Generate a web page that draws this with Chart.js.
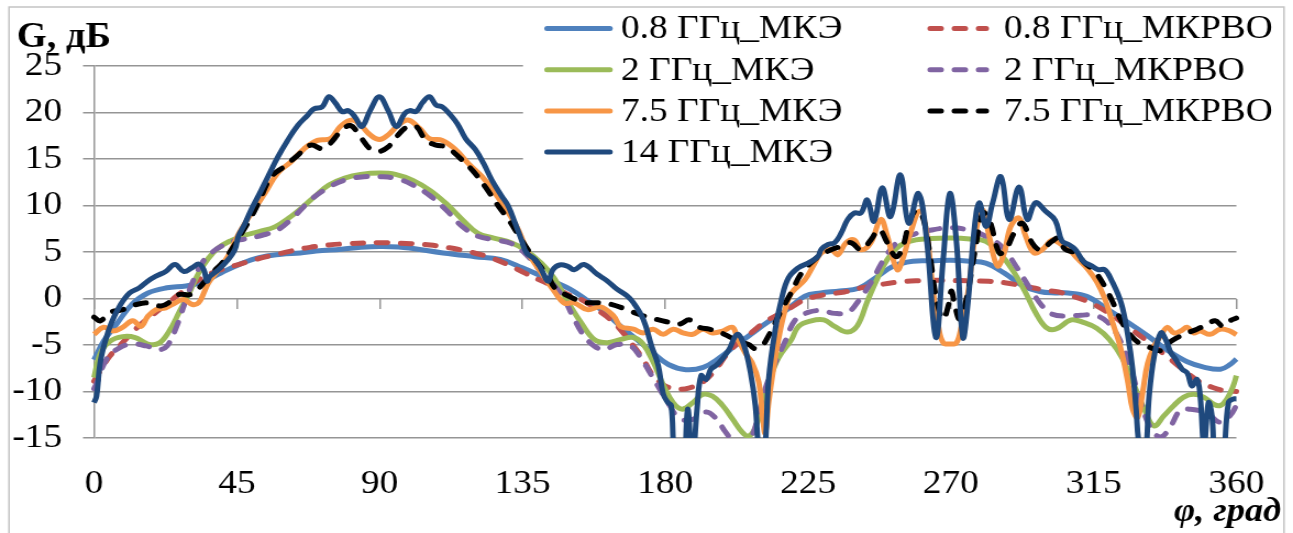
<!DOCTYPE html>
<html>
<head>
<meta charset="utf-8">
<script src="https://cdn.jsdelivr.net/npm/chart.js@4.4.1/dist/chart.umd.min.js"></script>
<style>
  html, body { margin: 0; padding: 0; background: #ffffff; }
</style>
</head>
<body>
<canvas id="chart" width="1176" height="533" style="display:block;width:1293px;height:533px"></canvas>
<script>
// Azimuth angles (deg) and gains (dB) of each pattern
const ang08MKE = [0,3,7,12,17,23,29,34,40,46,52,59,65,70,78,84,90,96,100,110,120,128,135,141,145,150,155,161,166,171,176,181,186.5,192,197,202,207,212,218,224,229,235,241,247,252,258,264,270,276,281,287,292.5,298,303,307,313,319.5,326,332,338,344.5,350,355,358,360];
const gain08MKE = [-6.6,-4.6,-2.8,-0.6,0.6,1.15,1.35,1.75,2.75,3.7,4.4,4.75,4.9,5.1,5.3,5.5,5.6,5.55,5.4,4.9,4.5,4.2,3.3,2.4,1.8,1.0,-0.1,-1.5,-3.0,-4.4,-5.8,-7.1,-7.65,-7.4,-6.4,-5.1,-3.85,-2.6,-1.3,0.25,0.6,0.8,1.1,2.4,3.5,4.0,4.05,4.1,4.0,3.8,2.7,1.4,0.75,0.6,0.6,0.2,-1.2,-2.6,-4.0,-5.5,-6.8,-7.4,-7.6,-7.1,-6.5];

const ang08MKRVO = [0,1,5,9,14,19.5,24.7,30,35,40,45.5,51,57,62,68,74,80,90,100,106,112,118,124,130,136,141,145,149,153.5,158.5,162.7,166,170,173,176,179.5,183.5,187.7,191.8,196,199,203,207.4,211.5,215.7,220,224,228,232,236.5,241,247,253,259,265,270,276,282,287,293.5,299.8,304,307,313,319.5,326,332,338,344.5,348.6,352.8,356,360];
const gain08MKRVO = [-8.9,-8.3,-6.2,-4.75,-3.0,-1.5,-0.1,1.3,2.4,3.1,3.65,4.2,4.7,5.1,5.5,5.75,5.9,6.0,5.9,5.75,5.45,5.05,4.5,3.7,2.7,1.9,1.3,0.5,-0.1,-1.2,-2.25,-3.4,-5.1,-6.5,-8.2,-9.3,-9.75,-9.6,-9.0,-7.6,-6.2,-4.75,-3.6,-2.5,-1.7,-0.9,-0.1,0.25,0.5,0.7,1.1,1.45,1.75,1.9,1.95,1.95,1.9,1.85,1.7,1.3,0.9,0.7,0.4,-0.3,-1.5,-3.1,-4.6,-6.2,-8.0,-9.0,-9.6,-9.9,-10.0];

const ang2MKE = [0,2,5,9,13,17,20.5,23.7,26.8,30,33,36,39,43,47.5,52,57,62,66,70,74,79,84,90,95,100.5,106,111,116,121,126,131.5,136,141,145,149,153.5,157.6,161.7,166,170,173,176.2,179.4,182.5,185.3,188.7,191.8,194.9,198.1,201.2,204.3,206.3,208.4,210.5,213,215.7,219.8,222,226,230,233.4,237.5,240.6,243.7,246.8,250,254,259,264,270,276,281,285.3,289.4,293.6,296.7,300,303,308,312,316,320,324,328,331,334,337.2,340.3,343.4,346.5,349.7,353,355,357,359,360];
const gain2MKE = [-8.5,-5.9,-4.6,-4.1,-4.2,-4.9,-4.8,-3.5,-1.5,0.6,2.75,4.3,5.4,6.2,6.8,7.2,7.7,8.8,9.9,11.1,12.2,12.95,13.35,13.5,13.35,12.7,11.6,10.2,8.5,7.0,6.5,6.0,5.2,3.8,2.2,-0.2,-2.6,-4.4,-4.75,-4.4,-4.2,-4.9,-6.8,-9.3,-11.2,-11.9,-11.2,-10.3,-10.5,-11.5,-12.95,-14.4,-14.8,-13.9,-11.7,-8.7,-6.4,-4.4,-3.0,-2.4,-2.3,-3.0,-3.6,-2.9,-0.3,2.1,4.2,5.7,6.3,6.45,6.5,6.4,6.15,4.9,3.1,0.6,-1.5,-3.1,-3.3,-2.3,-2.6,-3.2,-4.4,-6.4,-9.5,-11.9,-13.7,-12.6,-11.5,-10.6,-10.3,-10.6,-11.4,-11.5,-10.8,-9.4,-8.3];

const ang2MKRVO = [0,1,4,8,12,16.4,20.5,23,25.7,28.3,31,34,37,40,43.4,47.5,53,58,63,68.3,73.5,78.7,85,90,95.3,100.5,105.7,111,116,121,126.4,131.6,136.8,142,145,148.2,151.3,154.4,157.6,160.7,164.8,169,172,175.2,178.3,181.4,184.5,188.7,192.9,196,199.1,201.7,205.3,207.4,209.5,211.5,214.7,217.8,221,225,229.2,233.4,237.5,240.6,244.8,248.9,253,258.3,264.5,270,275,281,286.3,290.5,294.6,298.8,302,306,311,315.4,319.6,323.7,326.8,329.9,333.1,336.2,339.3,342.4,345.5,348.6,351.7,354.9,358,360];
const gain2MKRVO = [-9.7,-9.0,-6.5,-5.3,-4.9,-5.1,-5.5,-5.1,-3.3,-0.8,1.7,3.8,4.9,5.6,6.1,6.4,6.8,7.4,8.8,10.6,11.85,12.7,13.1,13.1,12.9,12.2,11.1,9.5,7.75,6.7,6.3,5.9,4.5,2.4,1.4,-0.1,-2.2,-4.0,-5.1,-5.5,-4.95,-5.1,-6.2,-8.0,-9.75,-11.5,-12.9,-13.0,-12.2,-12.9,-14.4,-15.4,-15.8,-14.75,-12.4,-9.75,-6.9,-4.6,-2.3,-1.5,-1.3,-1.6,-1.5,-0.4,1.7,4.2,6.0,6.9,7.4,7.6,7.4,6.7,5.5,3.5,1.3,-0.8,-1.7,-1.9,-1.8,-1.8,-2.6,-4.75,-7.6,-11.2,-14.0,-14.9,-13.7,-12.0,-11.9,-12.1,-12.6,-13.3,-12.6,-11.5];

const ang75MKE = [0,3,6,9,12.2,14.8,17,19.5,22.6,25.7,28.3,31,33,34.6,36.1,39.2,42.3,45.5,48.6,51.7,54,57.9,62.1,66.2,70.4,74.5,77.6,81.3,84.4,87,90,92.7,95.8,98.9,102.6,105.7,109.8,114,118,122.3,126.4,130.6,133.7,136.8,141,145,148.2,151.3,155.5,159.6,163.8,165.9,170,173.1,176.2,179.4,182.5,185.6,188.7,191.8,194.9,198.1,201.2,202.7,205.3,207.4,209.5,210.5,211.5,212.6,214.1,215.7,217.8,219.8,224,227.1,229.2,232.3,234.4,237,239.6,241.7,244.8,247.9,250,253.1,255.1,257.2,260.3,262.4,264.5,266.1,267.6,269.7,271.8,273.3,275.4,278,280.1,282.1,284.7,286.8,288.9,291.5,293.6,296.2,298.8,301.9,304,307.1,310.2,313.3,316,318.5,321,323.5,325.8,327.3,328.9,330.5,332,334.1,336.2,338.2,340.3,342.4,344.5,346.5,348.6,351.7,354.9,358,360];
const gain75MKE = [-3.85,-3.1,-3.5,-3.1,-2.4,-3.0,-1.9,-1.2,-1.0,-0.45,-0.1,-0.65,-0.45,0.6,1.7,3.1,4.6,6.9,8.65,10.2,11.4,13.5,14.7,16.1,17.0,17.2,18.5,19.2,18.5,17.6,17.1,17.6,18.6,19.2,18.3,17.2,17.0,16.0,14.5,13.1,11.3,9.2,7.4,4.9,2.75,0.8,-0.5,-0.46,-1.2,-0.9,-1.9,-3.0,-3.3,-3.7,-3.3,-3.85,-3.3,-3.7,-3.85,-3.3,-3.7,-3.5,-3.1,-4.2,-5.9,-6.9,-9.0,-12.0,-14.5,-11.2,-7.6,-4.4,-1.2,0.6,2.0,3.8,4.9,5.25,4.7,6.0,6.3,5.25,6.0,8.5,6.7,3.1,4.5,7.0,9.4,7.0,0.6,-3.0,-4.75,-4.9,-4.75,-3.0,0.6,7.4,9.5,6.7,3.5,4.9,7.75,8.65,6.7,4.9,5.25,6.3,6.0,5.3,4.2,3.1,1.8,0.0,-2.6,-5.3,-9.0,-11.9,-12.8,-10.0,-7.0,-5.1,-4.0,-3.1,-3.7,-3.5,-3.1,-3.7,-3.5,-3.85,-3.3,-3.5,-3.9];

const ang75MKRVO = [0,2,5,9,13.3,17.4,21.1,24.2,26.8,30,32,34.6,37.2,40.3,43.4,46.5,49.6,51.7,55.9,60,64.2,68.3,72,74.5,77.6,80.8,83.9,87,89.6,92.7,95.3,98.9,101.5,104.6,107.8,110.9,115,119.2,123.3,127.5,130.6,134.7,138.9,143.1,145.1,149.3,154.4,158.6,162.7,167.9,172.1,176.2,180.4,184.5,187.7,190.8,193.9,197,200.1,203.2,206.3,208.4,210.5,212.6,214.7,216.7,219.5,223,227.1,229.2,232.3,235.4,238.5,241.7,244.8,247.4,250,252.6,254.6,257.2,259.3,261.4,263.5,265.5,267.6,269.2,270.2,271.3,272.8,274.9,277.5,280.1,282.1,285.3,287.3,289.9,292.5,295.6,298.2,301.9,303.9,306,309.2,312.3,315.4,318.5,321.6,323.7,326.8,329.9,333.1,336.2,338.2,341.4,344.5,347.6,350.7,353.3,355.9,358,360];
const gain75MKRVO = [-2.0,-2.4,-1.5,-1.2,-0.65,-0.46,-0.8,-0.3,0.43,0.4,0.8,1.7,2.75,3.8,5.3,7.0,8.8,10.2,13.1,14.2,15.4,16.5,16.1,16.7,17.9,18.6,17.4,16.1,15.8,16.3,17.4,18.5,18.5,17.0,16.5,16.3,15.2,13.8,12.0,9.9,8.5,6.3,4.2,2.4,1.2,0.3,-0.4,-0.46,-0.6,-1.2,-1.75,-2.15,-2.5,-2.75,-2.3,-3.1,-3.3,-3.6,-4.1,-4.65,-4.95,-5.4,-5.1,-4.0,-2.6,-1.2,0.5,2.75,4.2,4.7,5.25,5.6,6.0,5.25,6.3,7.4,6.0,4.5,5.25,8.5,9.5,8.5,4.5,-0.1,-2.2,-0.8,0.8,-0.8,-2.2,-0.1,4.9,9.2,8.5,4.9,5.25,7.0,8.1,6.0,5.25,6.15,6.5,5.3,4.9,3.8,2.9,1.3,-0.8,-2.4,-4.0,-4.9,-5.3,-5.6,-4.9,-4.2,-3.7,-3.3,-2.8,-2.4,-3.0,-2.4,-2.1];

const ang14MKE = [0,0.8,1.9,3.4,5.5,8.1,11.2,14.3,16.9,19.5,22.6,25.5,28.3,30.9,33,34.6,35.6,36.6,39.2,42.3,44.4,45.5,47.5,49.6,52.2,54.8,57.9,61,64.2,67.3,69.3,71.9,74,76.1,78.2,80.2,82.3,84.4,87,89.9,92.7,95.3,97.9,99.5,101.5,103.6,105.7,107.8,109.8,111.9,114.5,117.1,120.2,122.8,125.4,128.5,130.6,132.7,134.7,136.3,138.9,141,143.1,144.6,146.7,149.3,151.3,154.4,158.6,161.7,164.8,167.9,170,173.1,175.7,177.8,179.4,180.9,181.9,183,185.5,187.1,188.5,190,191.3,192.9,194.4,196,198,200.1,202.7,204.8,206.9,208.4,209.8,211.2,212.6,214.7,216.7,218.8,221.9,225,228.1,229.2,231.3,233.4,235.4,237.5,239.6,241.7,243.7,245.8,248.4,251,254.1,256.7,259.8,262.4,265.3,267.6,269.7,271.8,273.8,275.4,277.5,279,281.1,283.2,285.8,288.4,291.5,294.1,296.7,299.8,302.9,305,307.1,309.2,311.8,314.4,316.4,318.5,320.6,323.7,325.8,327.3,328.4,329.5,331.2,332.5,334.1,336.2,337.7,339.3,340.8,342.9,344.5,346,347.6,348.6,349.8,351.2,352.3,353.5,355.5,357.5,359,360];
const gain14MKE = [-11.2,-10.5,-7.0,-4.75,-2.6,-0.8,0.6,1.15,1.86,2.4,2.9,3.65,2.9,3.3,3.7,3.1,1.86,2.4,3.1,4.2,5.25,6.7,8.0,9.6,11.3,13.1,15.2,17.0,18.6,19.7,20.4,20.6,21.7,21.0,20.1,20.2,19.5,18.5,20.2,21.7,20.2,18.5,19.9,20.2,20.1,21.1,21.7,20.8,20.6,19.9,18.8,17.2,16.0,14.5,12.7,11.0,9.9,8.1,6.3,4.9,4.2,3.1,1.85,3.1,3.6,3.46,3.1,3.65,2.6,1.9,1.0,0.3,-0.46,-2.25,-5.1,-7.2,-10.3,-11.2,-11.5,-17,-20,-11.9,-18,-12,-8.3,-8.7,-7.6,-7.2,-6.5,-5.5,-3.85,-5.0,-8.0,-11.5,-17,-17,-8.7,-3.3,0.0,2.2,3.3,3.8,4.5,5.3,5.8,6.0,7.0,8.5,9.2,9.2,10.6,8.3,11.9,8.8,13.3,8.1,11.3,6.3,-4.2,4.2,11.3,6.0,-4.2,-0.46,7.75,10.3,7.75,10.3,13.1,8.5,12.0,8.5,10.3,9.4,8.4,6.2,5.8,5.3,4.0,3.5,3.1,3.1,2.0,-0.5,-4.0,-7.6,-11.9,-16,-17,-10.5,-6.2,-3.7,-4.4,-5.8,-6.5,-7.6,-8.0,-9.4,-8.7,-10.5,-16,-11.2,-12.6,-18,-18,-11.2,-10.8,-10.8];

// Axis ticks
const angleTicks = [0, 45, 90, 135, 180, 225, 270, 315, 360];
const gainMin = -15, gainMax = 25, gainStep = 5;

const SERIF = '"Liberation Serif", "Times New Roman", serif';
const GRID = '#959595';
const LINE_W = 5;
const DASH = [10, 12];

function points(angles, gains) {
  return angles.map((a, i) => ({ x: a, y: gains[i] }));
}

const series = [
  { label: '0.8 ГГц_МКЭ',   data: points(ang08MKE, gain08MKE),     color: '#4F81BD', dashed: false },
  { label: '0.8 ГГц_МКРВО', data: points(ang08MKRVO, gain08MKRVO), color: '#C0504D', dashed: true },
  { label: '2 ГГц_МКЭ',     data: points(ang2MKE, gain2MKE),       color: '#9BBB59', dashed: false },
  { label: '2 ГГц_МКРВО',   data: points(ang2MKRVO, gain2MKRVO),   color: '#8064A2', dashed: true },
  { label: '7.5 ГГц_МКЭ',   data: points(ang75MKE, gain75MKE),     color: '#F79646', dashed: false },
  { label: '7.5 ГГц_МКРВО', data: points(ang75MKRVO, gain75MKRVO), color: '#000000', dashed: true },
  { label: '14 ГГц_МКЭ',    data: points(ang14MKE, gain14MKE),     color: '#1F497D', dashed: false }
];

// Chart frame, legend block and the two axis captions
const decorations = {
  id: 'decorations',
  beforeDraw(chart) {
    const ctx = chart.ctx;
    ctx.save();
    ctx.fillStyle = '#ffffff';
    ctx.fillRect(0, 0, chart.width, chart.height);
    ctx.strokeStyle = '#c4c4c4';
    ctx.lineWidth = 1.5;
    ctx.strokeRect(8.2, 7, 1159.6, 600);
    ctx.restore();
  },
  afterDraw(chart) {
    const ctx = chart.ctx;
    ctx.save();
    // legend area
    ctx.fillStyle = '#ffffff';
    ctx.fillRect(475.7, 9, 1166.5 - 475.7, 172 - 9);
    const cols = [
      { x0: 497.5, x1: 554.8, tx: 564.8 },
      { x0: 846, x1: 897, tx: 913 }
    ];
    ctx.font = '34px ' + SERIF;
    ctx.textBaseline = 'middle';
    ctx.textAlign = 'left';
    chart.data.datasets.forEach((ds, i) => {
      const c = cols[i % 2];
      const y = 28.5 + 41.2 * Math.floor(i / 2);
      ctx.beginPath();
      ctx.strokeStyle = ds.borderColor;
      ctx.lineWidth = LINE_W;
      ctx.lineCap = 'round';
      ctx.setLineDash(ds.borderDash || []);
      ctx.moveTo(c.x0, y);
      ctx.lineTo(c.x1, y);
      ctx.stroke();
      ctx.setLineDash([]);
      ctx.fillStyle = '#000000';
      ctx.fillText(ds.label, c.tx, y + 1);
    });
    // axis captions
    ctx.fillStyle = '#000000';
    ctx.textBaseline = 'alphabetic';
    ctx.font = 'bold 35px ' + SERIF;
    ctx.textAlign = 'left';
    ctx.fillText('G, дБ', 15.3, 47);
    ctx.font = 'italic bold 33px ' + SERIF;
    ctx.textAlign = 'right';
    ctx.fillText('φ, град', 1165, 521);
    ctx.restore();
  }
};

new Chart(document.getElementById('chart'), {
  type: 'line',
  data: {
    datasets: series.map((s, i) => ({
      label: s.label,
      data: s.data,
      borderColor: s.color,
      backgroundColor: s.color,
      borderWidth: LINE_W,
      borderDash: s.dashed ? DASH : [],
      borderCapStyle: s.dashed ? 'round' : 'butt',
      borderJoinStyle: 'round',
      pointRadius: 0,
      pointHoverRadius: 0,
      tension: 0.4,
      fill: false,
      order: series.length - 1 - i,
      clip: { left: 4, top: 4, right: 4, bottom: 0 }
    }))
  },
  options: {
    responsive: false,
    devicePixelRatio: 1,
    animation: false,
    events: [],
    layout: { padding: { left: 0, right: 39, top: 66, bottom: 0 } },
    plugins: {
      legend: { display: false },
      tooltip: { enabled: false },
      title: { display: false }
    },
    scales: {
      x: {
        type: 'linear',
        position: 'bottom',
        min: angleTicks[0],
        max: angleTicks[angleTicks.length - 1],
        afterBuildTicks(scale) { scale.ticks = angleTicks.map(v => ({ value: v })); },
        ticks: { font: { family: SERIF, size: 34 }, color: '#000000', padding: 26, maxRotation: 0, autoSkip: false },
        grid: { display: false, drawTicks: false },
        border: { display: false },
        afterFit(scale) { scale.height = 95; }
      },
      xZero: {
        type: 'linear',
        axis: 'x',
        position: { y: 0 },
        min: angleTicks[0],
        max: angleTicks[angleTicks.length - 1],
        afterBuildTicks(scale) { scale.ticks = angleTicks.map(v => ({ value: v })); },
        ticks: { display: false },
        grid: { drawOnChartArea: false, drawTicks: true, tickLength: 10, color: GRID, lineWidth: 1.5 },
        border: { display: false }
      },
      y: {
        type: 'linear',
        min: gainMin,
        max: gainMax,
        ticks: { stepSize: gainStep, font: { family: SERIF, size: 34 }, color: '#000000', padding: 19 },
        grid: { color: GRID, lineWidth: 1.5, tickLength: 10, drawTicks: true },
        border: { display: true, color: GRID, width: 1.5 },
        afterFit(scale) { scale.width = 85.5; }
      }
    }
  },
  plugins: [decorations]
});
</script>
</body>
</html>
